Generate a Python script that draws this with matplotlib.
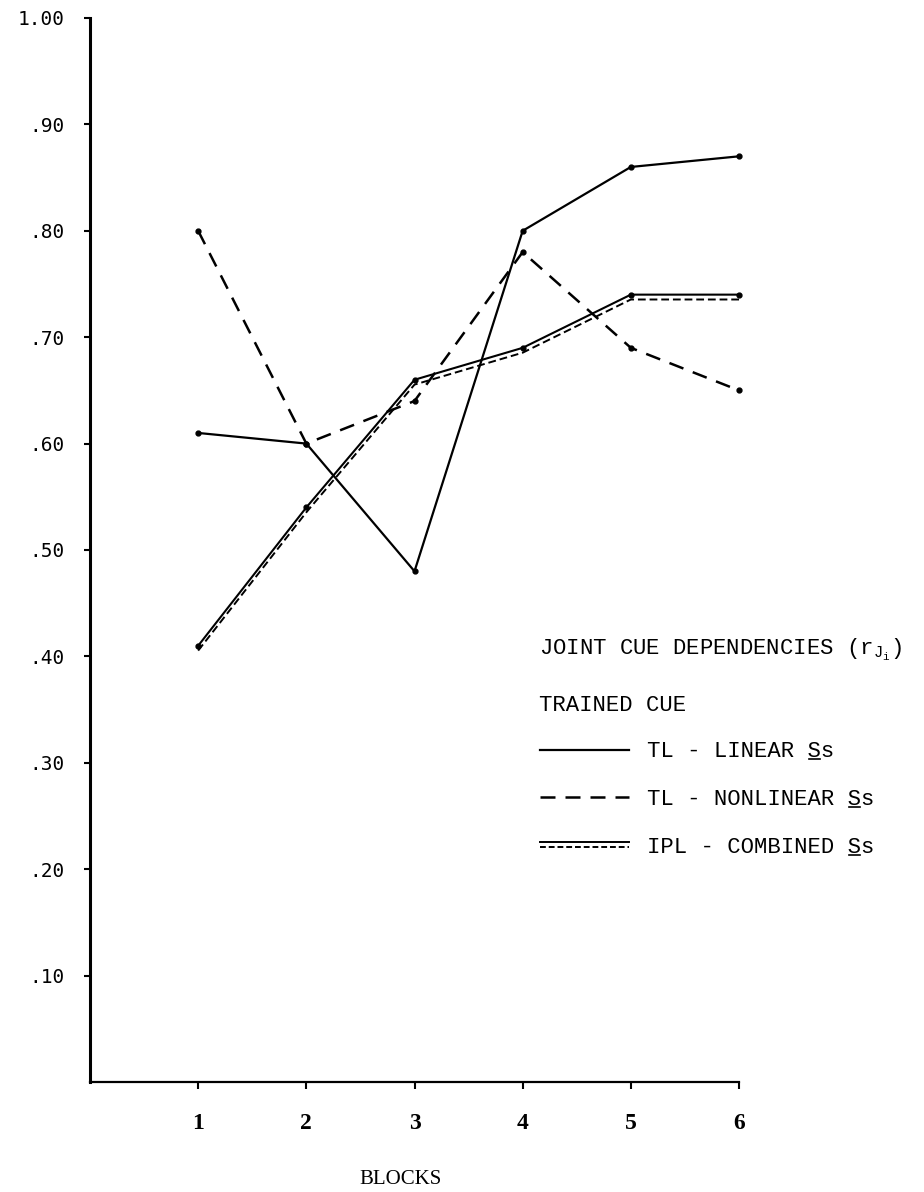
import matplotlib
matplotlib.use('Agg')
import matplotlib.pyplot as plt
from matplotlib import transforms
from matplotlib.lines import Line2D
from matplotlib.legend_handler import HandlerBase

# values
blocks = [1, 2, 3, 4, 5, 6]
linear = [0.61, 0.60, 0.48, 0.80, 0.86, 0.87]
nonlinear = [0.80, 0.60, 0.64, 0.78, 0.69, 0.65]
combined = [0.41, 0.54, 0.66, 0.69, 0.74, 0.74]

y_ticks = [0.1, 0.2, 0.3, 0.4, 0.5, 0.6, 0.7, 0.8, 0.9, 1.0]
y_tick_labels = ['.10', '.20', '.30', '.40', '.50', '.60', '.70', '.80', '.90', '1.00']
series_labels = ['TL - LINEAR Ss', 'TL - NONLINEAR Ss', 'IPL - COMBINED Ss']

plt.rcParams['mathtext.fontset'] = 'custom'
plt.rcParams['mathtext.rm'] = 'Liberation Mono'
plt.rcParams['mathtext.it'] = 'Liberation Mono'

MONO = 'Liberation Mono'
LEG_SIZE = 16


class DoubleLineHandler(HandlerBase):
    """Legend key: solid line with a dashed twin just below it."""
    def create_artists(self, legend, orig_handle, xdescent, ydescent,
                       width, height, fontsize, trans):
        xs = [-xdescent, width - xdescent]
        yc = (height - ydescent) / 2.0
        top = Line2D(xs, [yc + 1.8] * 2, color='black', lw=1.4)
        bot = Line2D(xs, [yc - 1.8] * 2, color='black', lw=1.4,
                     linestyle=(0, (3, 1.5)))
        top.set_transform(trans)
        bot.set_transform(trans)
        return [top, bot]


fig = plt.figure(figsize=(9.24, 11.92), dpi=100)
ax = fig.add_axes([0.0974, 0.0923, 0.7024, 0.8926])

h_lin, = ax.plot(blocks, linear, color='black', lw=1.6, marker='o',
                 markersize=3.5, clip_on=False)
h_non, = ax.plot(blocks, nonlinear, color='black', lw=1.8,
                 linestyle=(0, (6, 4)), marker='o', markersize=3.5,
                 clip_on=False)
ax.plot(blocks, combined, color='black', lw=1.5, marker='o',
        markersize=3.5, clip_on=False)
shifted = transforms.offset_copy(ax.transData, fig=fig, x=0, y=-3.5,
                                 units='points')
h_comb, = ax.plot(blocks, combined, color='black', lw=1.4,
                  linestyle=(0, (4, 2)), transform=shifted, clip_on=False)

ax.set_xlim(0, 6)
ax.set_ylim(0, 1.0)
ax.spines['top'].set_visible(False)
ax.spines['right'].set_visible(False)
ax.spines['left'].set_linewidth(2.2)
ax.spines['bottom'].set_linewidth(1.6)

ax.set_xticks(blocks)
ax.set_xticklabels([str(b) for b in blocks], family='Liberation Serif',
                   fontsize=17, fontweight='bold')
ax.set_yticks(y_ticks)
ax.set_yticklabels(y_tick_labels, family='DejaVu Sans Mono', fontsize=14)
ax.tick_params(axis='x', direction='out', length=5, width=1.5, pad=17)
ax.tick_params(axis='y', direction='out', length=4, width=1.5, pad=14)

ax.text(0.478, -0.092, 'BLOCKS', transform=ax.transAxes, ha='center',
        va='center', family='Liberation Serif', fontsize=15)

# legend block
ax.text(4.15, 0.406, r'JOINT CUE DEPENDENCIES (r$_{\mathrm{J}_{\mathrm{i}}}$)',
        family=MONO, fontsize=LEG_SIZE, va='center', ha='left')
ax.text(4.15, 0.354, 'TRAINED CUE', family=MONO, fontsize=LEG_SIZE,
        va='center', ha='left')

leg = ax.legend([h_lin, h_non, h_comb], series_labels,
                handler_map={h_comb: DoubleLineHandler()},
                loc='upper left', bbox_to_anchor=(0.584, 0.378),
                bbox_transform=fig.transFigure, frameon=False,
                borderpad=0, borderaxespad=0, handlelength=4.0,
                handletextpad=0.85, labelspacing=1.2,
                prop={'family': MONO, 'size': LEG_SIZE})
for line in leg.get_lines():
    line.set_marker('')

# underline the capital S of "Ss" (typewritten style), drawn as a short rule
fig.canvas.draw()
for t in leg.get_texts():
    s = t.get_text()
    bb = t.get_window_extent()
    cw = bb.width / len(s)
    k = s.rindex('Ss')
    x0 = bb.x0 + k * cw + 1
    fig.add_artist(Line2D([x0, x0 + cw - 2], [bb.y0 + 3, bb.y0 + 3],
                          transform=None, color='black', lw=1.2))

fig.savefig('out.png', dpi=100)
